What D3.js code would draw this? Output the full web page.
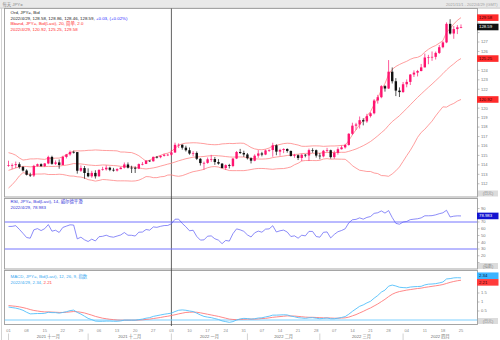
<!DOCTYPE html>
<html>
<head>
<meta charset="utf-8">
<script src="https://cdn.jsdelivr.net/npm/d3@7"></script>
<style>
  body { margin: 0; background: #fff; }
  svg { display: block; font-family: Arial, "Liberation Sans", "Noto Sans CJK SC", sans-serif; }
</style>
</head>
<body>
<div id="chart"></div>
<script>
// JPY= daily bid candles, 2021-11-01 .. 2022-04-25 (one entry per weekday)
var open = [113.95,113.96,113.97,114.07,113.77,113.40,112.95,112.87,113.89,114.07,113.87,114.15,114.84,114.11,114.26,113.99,114.84,115.11,115.37,115.35,113.38,113.66,
  113.14,112.79,113.15,112.79,113.46,113.53,113.70,113.48,113.40,113.55,113.70,114.04,113.70,113.69,113.60,114.08,114.10,114.45,114.38,114.85,114.81,114.96,115.07,
  115.08,115.31,116.12,116.13,115.82,115.55,115.20,115.26,114.64,114.19,114.21,114.59,114.62,114.30,114.13,113.67,113.97,113.88,114.67,115.36,115.26,
  115.10,114.70,114.44,114.97,115.21,115.09,115.53,115.57,116.07,115.40,115.58,115.68,115.47,114.94,115.02,114.73,115.07,114.99,115.56,115.55,
  114.98,114.90,115.49,115.55,114.82,115.27,115.66,115.85,116.11,117.29,118.15,118.27,118.73,118.60,119.16,119.46,120.81,121.16,122.33,122.08,123.86,122.85,121.86,
  121.70,122.53,122.78,123.56,123.76,123.93,124.32,125.36,125.38,125.43,125.85,126.45,126.96,128.92,127.90,128.37,128.58];
var high = [114.44,114.15,114.35,114.27,113.88,113.53,113.17,114.00,114.14,114.16,114.20,114.97,114.97,114.47,114.57,114.96,115.16,115.52,115.50,115.36,113.94,113.88,
  113.63,113.37,113.43,113.55,113.79,113.95,113.80,113.68,113.65,113.79,114.25,114.26,113.91,113.84,114.15,114.30,114.50,114.48,114.87,114.94,115.00,115.17,115.18,
  115.60,116.35,116.27,116.16,116.03,115.84,115.45,115.42,114.72,114.35,114.78,115.06,114.83,114.61,114.19,114.05,114.11,114.71,115.47,115.69,115.50,
  115.25,114.80,115.12,115.56,115.38,115.62,115.65,116.34,116.18,115.70,115.76,115.75,115.52,115.17,115.10,115.18,115.15,115.72,115.76,115.62,
  115.25,115.58,115.80,115.61,115.50,115.85,116.05,116.23,117.36,118.46,118.45,119.12,118.94,119.40,119.57,120.96,121.41,122.43,122.44,125.09,124.31,123.18,122.20,
  122.77,123.04,123.61,124.00,124.05,124.68,125.78,125.64,126.00,125.99,126.68,127.08,129.08,129.41,128.69,128.79,128.86];
var low = [113.80,113.55,113.66,113.60,113.30,112.88,112.72,112.72,113.80,113.80,113.78,114.07,114.01,113.99,113.59,113.96,114.68,114.97,115.20,113.07,113.25,112.53,
  112.69,112.64,112.55,112.75,113.39,113.40,113.33,113.29,113.30,113.54,113.62,113.62,113.14,113.14,113.55,113.95,114.08,114.30,114.35,114.68,114.70,114.88,114.93,
  114.94,115.27,115.78,115.61,115.41,115.07,114.92,114.51,113.93,113.49,114.12,114.32,114.00,114.02,113.63,113.47,113.62,113.76,114.61,115.15,114.85,
  114.57,114.15,114.38,114.75,114.90,115.03,115.37,114.86,115.02,114.97,115.24,115.29,114.88,114.75,114.51,114.40,114.80,114.41,115.29,114.77,
  114.59,114.80,115.37,114.66,114.65,115.08,115.62,115.72,116.03,117.16,117.70,117.85,118.18,118.45,119.01,119.35,120.48,121.05,121.75,122.03,122.61,121.28,121.18,
  121.63,122.21,122.45,123.30,123.36,123.90,124.30,124.65,125.01,125.15,125.74,126.34,126.88,127.79,127.34,127.84,128.46];
var close = [113.96,113.97,114.07,113.77,113.40,112.95,112.87,113.89,114.07,113.87,114.15,114.84,114.11,114.26,113.99,114.84,115.11,115.37,115.35,113.38,113.66,113.14,
  112.79,113.15,112.79,113.46,113.53,113.70,113.48,113.40,113.55,113.70,114.04,113.70,113.69,113.60,114.08,114.10,114.45,114.38,114.85,114.81,114.96,115.07,115.08,
  115.31,116.12,116.13,115.82,115.55,115.20,115.26,114.64,114.19,114.21,114.59,114.62,114.30,114.13,113.67,113.97,113.88,114.67,115.36,115.26,115.10,
  114.70,114.44,114.97,115.21,115.09,115.53,115.57,116.07,115.40,115.58,115.68,115.47,114.94,115.02,114.73,115.07,114.99,115.56,115.55,114.98,
  114.90,115.49,115.55,114.82,115.27,115.66,115.85,116.11,117.29,118.15,118.27,118.73,118.60,119.16,119.46,120.81,121.16,122.33,122.08,123.86,122.85,121.86,121.70,
  122.53,122.78,123.56,123.76,123.93,124.32,125.36,125.38,125.43,125.85,126.45,126.96,128.92,127.90,128.37,128.56,128.59];

// Bollinger (20, 2.0)
var bbUpper = [115.29,115.19,115.02,114.73,114.51,114.56,114.63,114.63,114.65,114.61,114.58,114.70,114.68,114.71,114.72,114.87,115.05,115.28,115.47,115.48,115.48,115.50,
  115.54,115.55,115.58,115.56,115.53,115.52,115.51,115.50,115.48,115.36,115.36,115.32,115.30,115.16,114.97,114.68,114.38,114.50,114.71,114.87,115.00,115.16,115.24,
  115.41,115.77,116.06,116.23,116.30,116.32,116.34,116.33,116.29,116.25,116.18,116.15,116.13,116.15,116.22,116.24,116.27,116.25,116.28,116.30,116.28,
  116.08,115.84,115.69,115.62,115.60,115.66,115.78,116.01,116.07,116.16,116.25,116.29,116.27,116.18,116.10,115.97,115.96,115.98,116.01,116.01,
  116.00,115.96,115.98,116.00,116.00,116.02,116.06,116.07,116.56,117.19,117.71,118.26,118.69,119.18,119.64,120.38,121.06,121.94,122.61,123.56,124.11,124.41,124.62,
  124.80,124.96,125.17,125.32,125.38,125.56,125.94,126.23,126.46,126.63,126.88,127.15,128.00,128.44,128.90,129.30,129.58];
var bbMid = [113.42,113.54,113.68,113.78,113.84,113.83,113.79,113.82,113.84,113.82,113.81,113.84,113.83,113.84,113.87,113.93,113.97,114.05,114.14,114.11,114.10,114.05,
  113.99,113.96,113.93,113.95,113.99,113.98,113.95,113.93,113.90,113.84,113.83,113.81,113.79,113.73,113.68,113.61,113.57,113.62,113.68,113.76,113.87,113.97,114.08,
  114.17,114.30,114.43,114.54,114.65,114.73,114.81,114.84,114.86,114.89,114.94,114.97,114.98,114.96,114.93,114.88,114.84,114.82,114.84,114.84,114.83,
  114.76,114.68,114.64,114.62,114.61,114.63,114.67,114.77,114.83,114.88,114.93,114.99,115.03,115.10,115.13,115.19,115.21,115.22,115.23,115.23,
  115.24,115.29,115.32,115.30,115.31,115.32,115.33,115.33,115.43,115.55,115.68,115.85,116.03,116.24,116.47,116.76,117.07,117.41,117.73,118.18,118.58,118.89,119.20,
  119.59,119.96,120.36,120.75,121.14,121.50,121.86,122.21,122.55,122.91,123.27,123.65,124.05,124.39,124.69,125.02,125.25];
var bbLower = [111.55,111.90,112.33,112.83,113.18,113.09,112.95,113.02,113.03,113.03,113.05,112.98,112.98,112.98,113.01,112.98,112.90,112.82,112.81,112.74,112.71,112.61,
  112.44,112.37,112.28,112.35,112.45,112.43,112.39,112.35,112.31,112.31,112.31,112.30,112.28,112.30,112.38,112.55,112.76,112.74,112.65,112.65,112.74,112.77,112.92,
  112.94,112.84,112.79,112.86,113.00,113.15,113.28,113.35,113.43,113.53,113.70,113.79,113.82,113.77,113.63,113.52,113.40,113.39,113.39,113.39,113.39,
  113.44,113.51,113.58,113.62,113.62,113.60,113.56,113.53,113.58,113.60,113.61,113.68,113.78,114.01,114.17,114.41,114.46,114.46,114.46,114.45,
  114.48,114.62,114.66,114.60,114.62,114.61,114.60,114.59,114.30,113.91,113.66,113.43,113.37,113.30,113.30,113.14,113.08,112.87,112.85,112.79,113.04,113.37,113.78,
  114.37,114.97,115.54,116.19,116.91,117.43,117.77,118.20,118.63,119.18,119.67,120.14,120.11,120.34,120.50,120.75,120.92];

// RSI (14, Wilder)
var rsi = [63.4,63.5,64.6,59.1,53.2,47.0,46.0,58.4,60.2,57.3,60.1,66.2,56.4,57.8,54.5,61.9,63.9,65.8,65.5,45.0,47.5,43.6,
  41.1,44.6,41.9,48.2,48.8,50.4,48.3,47.5,49.2,50.8,54.4,50.4,50.3,49.2,54.9,55.1,58.9,57.9,62.7,62.1,63.6,64.7,64.9,
  67.3,74.1,74.2,67.9,62.9,57.0,57.8,48.6,43.2,43.5,49.0,49.4,45.2,43.1,37.9,42.7,41.7,52.7,59.8,58.4,56.2,
  50.9,47.8,54.0,56.5,54.9,59.4,59.8,64.5,55.2,57.0,58.0,55.1,48.5,49.5,46.0,50.4,49.4,56.1,56.0,48.5,
  47.5,54.7,55.3,46.4,51.6,55.6,57.4,59.9,68.7,73.3,73.9,76.1,74.2,76.8,78.1,82.8,83.7,86.4,83.2,86.9,76.6,68.0,66.7,
  69.9,70.8,73.5,74.2,74.8,76.1,79.2,79.2,79.4,80.6,82.3,83.6,87.4,77.4,78.6,79.1,78.983];

// MACD (12, 26, 9)
var macd = [0.72,0.69,0.66,0.61,0.54,0.43,0.34,0.35,0.36,0.36,0.37,0.43,0.41,0.41,0.38,0.42,0.46,0.52,0.55,0.42,0.33,0.21,
  0.09,0.02,-0.06,-0.07,-0.07,-0.06,-0.06,-0.07,-0.07,-0.05,-0.01,-0.01,-0.01,-0.01,0.02,0.05,0.10,0.13,0.20,0.24,0.28,0.32,0.35,
  0.38,0.47,0.54,0.56,0.54,0.50,0.47,0.38,0.28,0.20,0.16,0.13,0.08,0.03,-0.05,-0.09,-0.13,-0.09,0.00,0.06,0.09,
  0.08,0.05,0.07,0.11,0.12,0.17,0.21,0.27,0.27,0.28,0.29,0.28,0.22,0.18,0.13,0.11,0.09,0.12,0.13,0.10,
  0.07,0.09,0.11,0.07,0.07,0.10,0.14,0.19,0.32,0.48,0.62,0.76,0.84,0.95,1.04,1.21,1.36,1.55,1.66,1.88,1.94,1.89,1.82,
  1.80,1.79,1.83,1.85,1.86,1.87,1.95,1.99,2.00,2.02,2.06,2.11,2.28,2.30,2.34,2.35,2.34];
var signal = [0.80,0.78,0.76,0.73,0.69,0.64,0.58,0.53,0.50,0.47,0.45,0.45,0.44,0.43,0.42,0.42,0.43,0.45,0.47,0.46,0.43,0.39,
  0.33,0.27,0.20,0.15,0.10,0.07,0.04,0.02,0.00,-0.01,-0.01,-0.01,-0.01,-0.01,0.00,0.01,0.03,0.05,0.08,0.11,0.14,0.18,0.21,
  0.25,0.29,0.34,0.38,0.42,0.43,0.44,0.43,0.40,0.36,0.32,0.28,0.24,0.20,0.15,0.10,0.05,0.03,0.02,0.03,0.04,
  0.05,0.05,0.05,0.06,0.08,0.09,0.12,0.15,0.17,0.19,0.21,0.23,0.22,0.22,0.20,0.18,0.16,0.15,0.15,0.14,
  0.13,0.12,0.12,0.11,0.10,0.10,0.11,0.12,0.16,0.23,0.30,0.39,0.48,0.58,0.67,0.78,0.89,1.02,1.15,1.30,1.43,1.52,1.58,
  1.62,1.66,1.69,1.72,1.75,1.77,1.81,1.84,1.87,1.90,1.93,1.97,2.03,2.09,2.14,2.18,2.21];

var priceTicks = [112,113,114,115,116,117,118,119,120,121,122,123,124,125,126,127,128,129];
var rsiTicks = [10,20,30,40,50,60,70,80,90];
var macdTicks = [0,0.5,1,1.5,2];
var monthNames = ["2021 十一月","2021 十二月","2022 一月","2022 二月","2022 三月","2022 四月"];

var mainLegend = ["Ord, JPY=, Bid", "2022/4/29, 128.58, 128.86, 128.46, 128.59, ", "+0.03, (+0.02%)",
  "Bband, JPY=, Bid(Last), 20, 简单, 2.0", "2022/4/29, 120.92, 125.25, 129.58"];
var rsiLegend = ["RSI, JPY=, Bid(Last), 14, 威尔德平滑", "2022/4/29, 78.983"];
var macdLegend = ["MACD, JPY=, Bid(Last), 12, 26, 9, 指数", "2022/4/29, 2.34, ", "2.21"];

var width = 500, height = 340;
var plotL = 4.5, plotR = 477.5;

var days = d3.utcDay.range(new Date(Date.UTC(2021, 10, 1)), new Date(Date.UTC(2022, 3, 26)))
  .filter(function(d) { var w = d.getUTCDay(); return w !== 0 && w !== 6; });
var n = days.length;

var x = d3.scalePoint().domain(d3.range(n)).range([8.5, 461]);
var yP = d3.scaleLinear().domain([110.6, 130.6]).range([197, 8]);
var yR = d3.scaleLinear().domain([0, 100]).range([269.25, 201.75]);
var yM = d3.scaleLinear().domain([-0.2, 2.8]).range([323.6, 269.6]);

var panes = [
  { id: "pMain", top: 8.5, bottom: 197 },
  { id: "pRsi", top: 198.5, bottom: 269 },
  { id: "pMacd", top: 270.5, bottom: 324.5 }
];

var svg = d3.select("#chart").append("svg").attr("width", width).attr("height", height);

var defs = svg.append("defs");
panes.forEach(function(p) {
  defs.append("clipPath").attr("id", p.id).append("rect")
    .attr("x", plotL).attr("y", p.top).attr("width", plotR - plotL).attr("height", p.bottom - p.top);
});

// window chrome
svg.append("rect").attr("width", width).attr("height", height).attr("fill", "#fff");
svg.append("rect").attr("width", width).attr("height", 8).attr("fill", "#e9e9e9");
svg.append("line").attr("x1", 0).attr("x2", width).attr("y1", 8.2).attr("y2", 8.2).attr("stroke", "#a8a8a8").attr("stroke-width", 0.6);
svg.append("text").attr("x", 2.5).attr("y", 5.6).attr("font-size", 4.3).attr("fill", "#8a8a8a").text("每天 JPY=");
svg.append("text").attr("x", 497.5).attr("y", 5.6).attr("font-size", 4).attr("fill", "#a0a0a0")
  .attr("text-anchor", "end").text("2021/11/1 - 2022/4/29 (GMT)");
svg.append("line").attr("x1", 1.5).attr("x2", 1.5).attr("y1", 8).attr("y2", height).attr("stroke", "#c8c8c8").attr("stroke-width", 0.8);

panes.forEach(function(p) {
  svg.append("rect").attr("x", plotL).attr("y", p.top).attr("width", plotR - plotL).attr("height", p.bottom - p.top)
    .attr("fill", "#fff").attr("stroke", "#9c9c9c").attr("stroke-width", 0.9);
});

// year boundary
svg.append("line").attr("x1", x(45)).attr("x2", x(45)).attr("y1", 8.5).attr("y2", 326)
  .attr("stroke", "#3a3a3a").attr("stroke-width", 0.8);

// ---- main pane ----
var gMain = svg.append("g").attr("clip-path", "url(#pMain)");

function bandLine(arr) {
  return d3.line().x(function(d, i) { return x(i); }).y(function(d) { return yP(d); })(arr);
}
[bbUpper, bbMid, bbLower].forEach(function(arr) {
  gMain.append("path").attr("d", bandLine(arr)).attr("fill", "none")
    .attr("stroke", "#ff8585").attr("stroke-width", 0.8);
});

var upCol = "#ff1470", downCol = "#111";
var candle = gMain.selectAll(".candle").data(d3.range(n)).enter().append("g").attr("class", "candle")
  .attr("fill", function(i) { return close[i] >= open[i] ? upCol : downCol; })
  .attr("stroke", function(i) { return close[i] >= open[i] ? upCol : downCol; });
candle.append("line")
  .attr("x1", function(i) { return x(i); }).attr("x2", function(i) { return x(i); })
  .attr("y1", function(i) { return yP(high[i]); }).attr("y2", function(i) { return yP(low[i]); })
  .attr("stroke-width", 0.7);
candle.append("rect")
  .attr("x", function(i) { return x(i) - 1.2; }).attr("width", 2.4)
  .attr("y", function(i) { return yP(Math.max(open[i], close[i])); })
  .attr("height", function(i) { return Math.max(0.7, Math.abs(yP(open[i]) - yP(close[i]))); })
  .attr("stroke", "none");

// ---- RSI pane ----
var gRsi = svg.append("g").attr("clip-path", "url(#pRsi)");
[70, 30].forEach(function(v) {
  gRsi.append("line").attr("x1", plotL).attr("x2", plotR).attr("y1", yR(v)).attr("y2", yR(v))
    .attr("stroke", "#7474ff").attr("stroke-width", 1);
});
gRsi.append("path")
  .attr("d", d3.line().x(function(d, i) { return x(i); }).y(function(d) { return yR(d); })(rsi))
  .attr("fill", "none").attr("stroke", "#5a5af5").attr("stroke-width", 0.7);

// ---- MACD pane ----
var gMacd = svg.append("g").attr("clip-path", "url(#pMacd)");
gMacd.append("line").attr("x1", plotL).attr("x2", plotR).attr("y1", yM(0)).attr("y2", yM(0))
  .attr("stroke", "#7fd0ff").attr("stroke-width", 1);
var macdLine = d3.line().x(function(d, i) { return x(i); }).y(function(d) { return yM(d); });
gMacd.append("path").attr("d", macdLine(signal)).attr("fill", "none").attr("stroke", "#ff7b7b").attr("stroke-width", 0.9);
gMacd.append("path").attr("d", macdLine(macd)).attr("fill", "none").attr("stroke", "#52c0fa").attr("stroke-width", 0.9);

// ---- legends ----
function legend(y0, rows) {
  rows.forEach(function(r, k) {
    var t = svg.append("text").attr("x", 10.5).attr("y", y0 + k * 5.9).attr("font-size", 4.4);
    r.forEach(function(s) { t.append("tspan").attr("fill", s[1]).text(s[0]); });
  });
}
legend(13.6, [
  [[mainLegend[0], "#222"]],
  [[mainLegend[1], "#222"], [mainLegend[2], "#2a2aff"]],
  [[mainLegend[3], "#ff2a2a"]],
  [[mainLegend[4], "#ff2a2a"]]
]);
legend(203, [[[rsiLegend[0], "#3030d8"]], [[rsiLegend[1], "#3030d8"]]]);
legend(277.6, [[[macdLegend[0], "#38a8f0"]], [[macdLegend[1], "#38a8f0"], [macdLegend[2], "#ff3a3a"]]]);

// ---- last-value boxes (placed first so axis labels can step around them) ----
var boxes = [];
var mTop = yM(macd[n - 1]), mBot = yM(signal[n - 1]);
var mMidY = (mTop + mBot) / 2;
boxes.push({ y: yP(bbUpper[n - 1]), t: d3.format(".2f")(bbUpper[n - 1]), bg: "#ff2b2b", fg: "#3a0000" });
boxes.push({ y: yP(close[n - 1]), t: d3.format(".2f")(close[n - 1]), bg: "#111", fg: "#fff" });
boxes.push({ y: yP(bbMid[n - 1]), t: d3.format(".2f")(bbMid[n - 1]), bg: "#ff2b2b", fg: "#3a0000" });
boxes.push({ y: yP(bbLower[n - 1]), t: d3.format(".2f")(bbLower[n - 1]), bg: "#ff2b2b", fg: "#3a0000" });
boxes.push({ y: yR(rsi[n - 1]), t: d3.format(".3f")(rsi[n - 1]), bg: "#1414d0", fg: "#fff" });
boxes.push({ y: Math.min(mTop, mMidY - 3.3), t: d3.format(".2f")(macd[n - 1]), bg: "#3cb4ff", fg: "#002040" });
boxes.push({ y: Math.max(mBot, mMidY + 3.3), t: d3.format(".2f")(signal[n - 1]), bg: "#ff3b3b", fg: "#3a0000" });

var units = [{ y: 193.5, t: "(日元)" }, { y: 266, t: "(指数)" }, { y: 321, t: "(日元)" }];

function blocked(y) {
  return boxes.some(function(b) { return Math.abs(b.y - y) < 5.6; }) ||
    units.some(function(u) { return Math.abs(u.y - y) < 5; });
}

// ---- right axes ----
[
  { s: yP, ticks: priceTicks, f: d3.format("d") },
  { s: yR, ticks: rsiTicks, f: d3.format("d") },
  { s: yM, ticks: macdTicks, f: d3.format("") }
].forEach(function(a) {
  var g = svg.append("g");
  a.ticks.forEach(function(v) {
    var y = a.s(v);
    g.append("line").attr("x1", plotR).attr("x2", plotR + 2).attr("y1", y).attr("y2", y)
      .attr("stroke", "#999").attr("stroke-width", 0.6);
    if (!blocked(y)) {
      g.append("text").attr("x", 481).attr("y", y + 1.4).attr("font-size", 4.1).attr("fill", "#777").text(a.f(v));
    }
  });
});

boxes.forEach(function(b) {
  svg.append("rect").attr("x", plotR - 0.5).attr("y", b.y - 3.3).attr("width", 21.5).attr("height", 6.6).attr("fill", b.bg);
  svg.append("text").attr("x", 479).attr("y", b.y + 1.5).attr("font-size", 4.3).attr("fill", b.fg).text(b.t);
});

units.forEach(function(u) {
  svg.append("rect").attr("x", plotR + 0.5).attr("y", u.y - 3).attr("width", 20).attr("height", 6).attr("fill", "#dcdcdc");
  svg.append("text").attr("x", plotR + 10.5).attr("y", u.y + 1.5).attr("font-size", 4).attr("fill", "#888")
    .attr("text-anchor", "middle").text(u.t);
});

// ---- date axis ----
var mondays = d3.range(n).filter(function(i) { return days[i].getUTCDay() === 1; });
svg.append("g").selectAll("text").data(mondays).enter().append("text")
  .attr("x", function(i) { return x(i); }).attr("y", 331.5)
  .attr("font-size", 4).attr("fill", "#8a8a8a").attr("text-anchor", "middle")
  .text(function(i) { return d3.utcFormat("%d")(days[i]); });

var monthStart = d3.range(n).filter(function(i) { return i === 0 || days[i].getUTCMonth() !== days[i - 1].getUTCMonth(); });
monthStart.forEach(function(i, k) {
  var x0 = x(i), x1 = k < monthStart.length - 1 ? x(monthStart[k + 1]) : plotR;
  svg.append("line").attr("x1", x0).attr("x2", x0).attr("y1", 333.5).attr("y2", 340)
    .attr("stroke", "#b5b5b5").attr("stroke-width", 0.6);
  svg.append("text").attr("x", (x0 + x1) / 2).attr("y", 338.3).attr("font-size", 4.2).attr("fill", "#6a6a6a")
    .attr("text-anchor", "middle").text(monthNames[k]);
});
</script>
</body>
</html>
